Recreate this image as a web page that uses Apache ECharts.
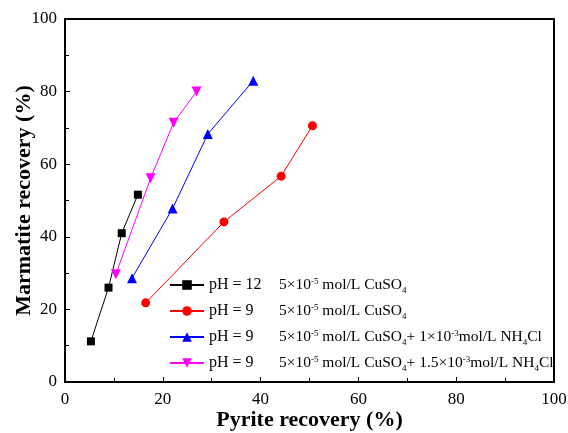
<!DOCTYPE html>
<html><head><meta charset="utf-8">
<script src="https://cdn.jsdelivr.net/npm/echarts@6/dist/echarts.min.js"></script>
<style>html,body{margin:0;padding:0;background:#fff}#c{width:568px;height:433px}</style>
</head><body><div id="c"></div>
<script>
const seriesNames = ['s12', 's9', 's9a', 's9b'];
const blackX = [5.3, 8.9, 11.6, 14.9];
const blackY = [11.2, 26.0, 41.0, 51.6];
const redX = [16.5, 32.5, 44.2, 50.6];
const redY = [21.8, 44.1, 56.7, 70.6];
const blueX = [13.7, 22.0, 29.2, 38.5];
const blueY = [28.6, 47.8, 68.3, 83.0];
const magX = [10.4, 17.5, 22.2, 26.9];
const magY = [29.7, 56.1, 71.4, 80.0];
const xTicks = [0, 20, 40, 60, 80, 100];
const yTicks = [0, 20, 40, 60, 80, 100];

const legendText = {
  s12: '{a|pH = 12}{t|5×10}{sup|-5}{t| mol/L CuSO}{sub|4}',
  s9: '{a|pH = 9}{t|5×10}{sup|-5}{t| mol/L CuSO}{sub|4}',
  s9a: '{a|pH = 9}{t|5×10}{sup|-5}{t| mol/L CuSO}{sub|4}{t|+ 1×10}{sup|-3}{t|mol/L NH}{sub|4}{t|Cl}',
  s9b: '{a|pH = 9}{t|5×10}{sup|-5}{t| mol/L CuSO}{sub|4}{t|+ 1.5×10}{sup|-3}{t|mol/L NH}{sub|4}{t|Cl}'
};
const font = 'Liberation Serif';
function pairs(xs, ys){ return xs.map((x,i)=>[x, ys[i]]); }
function mk(name, xs, ys, color, symbol, size){
  return {name, type:'line', data:pairs(xs,ys), symbol, symbolSize:size,
    lineStyle:{color, width:1}, itemStyle:{color}, emphasis:{disabled:true}};
}
const chart = echarts.init(document.getElementById('c'), null, {renderer:'canvas'});
chart.setOption({
  animation:false,
  backgroundColor:'#fff',
  grid:{left:65, right:14, top:19, bottom:51, show:true, borderColor:'#000', borderWidth:2,
    containLabel:false, outerBoundsMode:'none'},
  xAxis:{type:'value', min:0, max:100, interval:20,
    name:'Pyrite recovery (%)', nameLocation:'middle', nameGap:27, nameMoveOverlap:false,
    nameTextStyle:{fontFamily:font, fontWeight:'bold', fontSize:22, color:'#000'},
    axisLine:{show:true, lineStyle:{color:'#000', width:2}},
    axisTick:{show:true, inside:true, length:5, lineStyle:{color:'#000'}},
    minorTick:{show:true, splitNumber:2, length:4, lineStyle:{color:'#000'}},
    axisLabel:{fontFamily:font, fontSize:17, color:'#000', margin:9,
      customValues: xTicks},
    splitLine:{show:false}},
  yAxis:{type:'value', min:0, max:100, interval:20,
    name:'Marmatite recovery (%)', nameLocation:'middle', nameGap:30, nameMoveOverlap:false,
    nameTextStyle:{fontFamily:font, fontWeight:'bold', fontSize:22, color:'#000'},
    axisLine:{show:true, lineStyle:{color:'#000', width:2}},
    axisTick:{show:true, inside:true, length:5, lineStyle:{color:'#000'}},
    minorTick:{show:true, splitNumber:2, length:4, lineStyle:{color:'#000'}},
    axisLabel:{fontFamily:font, fontSize:17, color:'#000', margin:8,
      customValues: yTicks},
    splitLine:{show:false}},
  legend:{orient:'vertical', left:164, top:270, itemWidth:34, itemHeight:12, itemGap:6,
    data:seriesNames,
    formatter:(n)=>legendText[n],
    textStyle:{fontFamily:font, fontSize:15.5, color:'#000',
      rich:{
        a:{fontFamily:font, fontSize:16, width:70, lineHeight:20, color:'#000'},
        t:{fontFamily:font, fontSize:15.5, lineHeight:20, color:'#000'},
        sup:{fontFamily:font, fontSize:9, verticalAlign:'top', lineHeight:20, color:'#000', padding:[2,0,0,0]},
        sub:{fontFamily:font, fontSize:9, verticalAlign:'bottom', lineHeight:20, color:'#000'}
      }}},
  series:[
    mk('s12', blackX, blackY, '#000000', 'rect', 8),
    mk('s9', redX, redY, '#ff0000', 'circle', 9),
    mk('s9a', blueX, blueY, '#0000ff', 'triangle', 10),
    mk('s9b', magX, magY, '#ff00ff', 'path://M0,0 L10,0 L5,9 Z', 10)
  ]
});
</script></body></html>
